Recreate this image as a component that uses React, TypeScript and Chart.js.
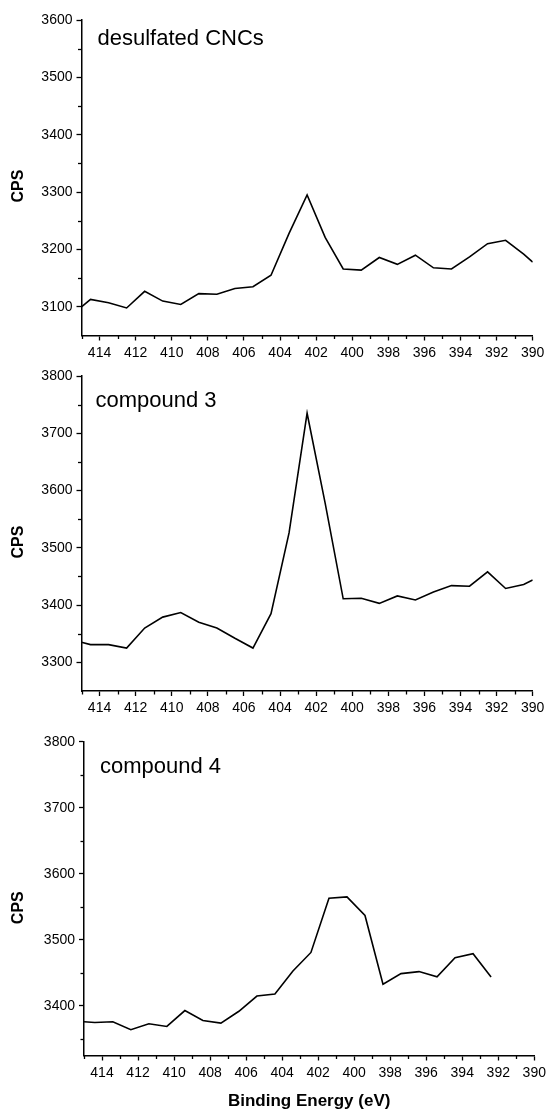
import React, { useEffect, useRef } from 'react';
import { Chart, registerables } from 'chart.js';

Chart.register(...registerables);

// ---- data ----
const energies1 = [415.0, 414.5, 413.5, 412.5, 411.5, 410.5, 409.5, 408.5, 407.5, 406.5, 405.5, 404.5, 403.5, 402.5, 401.5, 400.5, 399.5, 398.5, 397.5, 396.5, 395.5, 394.5, 393.5, 392.5, 391.5, 390.5, 390.0];
const cps1 = [3100, 3113, 3107, 3098, 3127, 3110, 3104, 3123, 3122, 3132, 3135, 3155, 3228, 3295, 3221, 3166, 3164, 3186, 3174, 3190, 3168, 3166, 3187, 3210, 3216, 3192, 3178];

const energies2 = [415.0, 414.5, 413.5, 412.5, 411.5, 410.5, 409.5, 408.5, 407.5, 406.5, 405.5, 404.5, 403.5, 402.5, 401.5, 400.5, 399.5, 398.5, 397.5, 396.5, 395.5, 394.5, 393.5, 392.5, 391.5, 390.5, 390.0];
const cps2 = [3335, 3331, 3331, 3325, 3360, 3379, 3387, 3370, 3360, 3342, 3325, 3385, 3526, 3735, 3578, 3411, 3412, 3403, 3416, 3409, 3423, 3434, 3433, 3458, 3429, 3436, 3444];

const energies3 = [415.0, 414.4, 413.4, 412.4, 411.4, 410.4, 409.4, 408.4, 407.4, 406.4, 405.4, 404.4, 403.4, 402.4, 401.4, 400.4, 399.4, 398.4, 397.4, 396.4, 395.4, 394.4, 393.4, 392.4];
const cps3 = [3376, 3375, 3376, 3364, 3373, 3369, 3393, 3378, 3374, 3392, 3415, 3418, 3453, 3481, 3563, 3565, 3537, 3433, 3449, 3452, 3444, 3473, 3479, 3444];

const xMajorTicks = [390, 392, 394, 396, 398, 400, 402, 404, 406, 408, 410, 412, 414];
const xMinorTicks = [391, 393, 395, 397, 399, 401, 403, 405, 407, 409, 411, 413, 415];

const yMajor1 = [3100, 3200, 3300, 3400, 3500, 3600];
const yMinor1 = [3150, 3250, 3350, 3450, 3550];
const yMajor2 = [3300, 3400, 3500, 3600, 3700, 3800];
const yMinor2 = [3350, 3450, 3550, 3650, 3750];
const yMajor3 = [3400, 3500, 3600, 3700, 3800];
const yMinor3 = [3350, 3450, 3550, 3650, 3750];

const panelLabels = ['desulfated CNCs', 'compound 3', 'compound 4'];
const yTitle = 'CPS';
const xTitle = 'Binding Energy (eV)';

const FONT = '"Liberation Sans", Arial, Helvetica, sans-serif';

type Panel = {
  label: string;
  xs: number[];
  ys: number[];
  yMin: number;
  yMax: number;
  yMajor: number[];
  yMinor: number[];
  top: number;
  height: number;
  padTop: number;
  areaBottom: number;
  left: number;
  right: number;
  labelDx: number;
  labelDy: number;
  showXTitle: boolean;
};

const panels: Panel[] = [
  { label: panelLabels[0], xs: energies1, ys: cps1, yMin: 3050, yMax: 3600, yMajor: yMajor1, yMinor: yMinor1, top: 0, height: 362, padTop: 20, areaBottom: 335.5, left: 81.5, right: 532.7, labelDx: 16, labelDy: 25, showXTitle: false },
  { label: panelLabels[1], xs: energies2, ys: cps2, yMin: 3250, yMax: 3800, yMajor: yMajor2, yMinor: yMinor2, top: 362, height: 358, padTop: 14, areaBottom: 329, left: 81.5, right: 532.7, labelDx: 14, labelDy: 30.5, showXTitle: false },
  { label: panelLabels[2], xs: energies3, ys: cps3, yMin: 3325, yMax: 3800, yMajor: yMajor3, yMinor: yMinor3, top: 720, height: 391, padTop: 21.7, areaBottom: 335.5, left: 84, right: 534.3, labelDx: 16, labelDy: 31, showXTitle: true },
];

function PanelChart({ p }: { p: Panel }) {
  const ref = useRef<HTMLCanvasElement | null>(null);
  useEffect(() => {
    if (!ref.current) return;
    const overlay = {
      id: 'overlay' + p.top,
      afterDraw(chart: any) {
        const { ctx, chartArea, scales } = chart;
        ctx.save();
        ctx.strokeStyle = '#000';
        ctx.lineWidth = 1.3;
        xMinorTicks.forEach((v) => {
          const px = Math.round(scales.x.getPixelForValue(v)) + 0.5;
          ctx.beginPath();
          ctx.moveTo(px, chartArea.bottom);
          ctx.lineTo(px, chartArea.bottom + 3.5);
          ctx.stroke();
        });
        p.yMinor.forEach((v) => {
          const py = Math.round(scales.y.getPixelForValue(v)) + 0.5;
          ctx.beginPath();
          ctx.moveTo(chartArea.left - 3.5, py);
          ctx.lineTo(chartArea.left, py);
          ctx.stroke();
        });
        ctx.fillStyle = '#000';
        ctx.textAlign = 'left';
        ctx.textBaseline = 'alphabetic';
        ctx.font = '22px ' + FONT;
        ctx.fillText(p.label, chartArea.left + p.labelDx, chartArea.top + p.labelDy);
        if (p.showXTitle) {
          ctx.font = 'bold 17px ' + FONT;
          ctx.textAlign = 'center';
          ctx.textBaseline = 'middle';
          ctx.fillText(xTitle, (chartArea.left + chartArea.right) / 2, chartArea.bottom + 46);
        }
        ctx.translate(19, chartArea.top + 166);
        ctx.rotate(-Math.PI / 2);
        ctx.font = 'bold 16px ' + FONT;
        ctx.textAlign = 'center';
        ctx.textBaseline = 'middle';
        ctx.fillText(yTitle, 0, 0);
        ctx.restore();
      },
    };

    const chart = new Chart(ref.current, {
      type: 'line',
      data: {
        datasets: [
          {
            data: p.xs.map((x, i) => ({ x, y: p.ys[i] })),
            borderColor: '#000',
            borderWidth: 1.6,
            pointRadius: 0,
            tension: 0,
            fill: false,
          },
        ],
      },
      options: {
        responsive: false,
        maintainAspectRatio: false,
        animation: false,
        layout: { padding: { top: p.padTop, right: 547 - p.right, left: 0, bottom: 0 } },
        plugins: { legend: { display: false }, tooltip: { enabled: false }, title: { display: false } },
        scales: {
          x: {
            type: 'linear',
            reverse: true,
            min: 390,
            max: 415,
            afterBuildTicks: (s: any) => {
              s.ticks = xMajorTicks.map((v) => ({ value: v }));
            },
            afterFit: (s: any) => {
              s.height = p.height - p.areaBottom;
            },
            ticks: {
              autoSkip: false,
              maxRotation: 0,
              minRotation: 0,
              padding: 4,
              color: '#000',
              font: { family: FONT, size: 14 },
              callback: (v: any) => String(v),
            },
            grid: { display: true, drawOnChartArea: false, drawTicks: true, tickLength: 5, tickColor: '#000', tickWidth: 1.3 },
            border: { display: true, color: '#000', width: 1.5 },
          },
          y: {
            type: 'linear',
            min: p.yMin,
            max: p.yMax,
            afterBuildTicks: (s: any) => {
              s.ticks = p.yMajor.map((v) => ({ value: v }));
            },
            afterFit: (s: any) => {
              s.width = p.left;
            },
            ticks: {
              padding: 4,
              color: '#000',
              font: { family: FONT, size: 14 },
              callback: (v: any) => String(v),
            },
            grid: { display: true, drawOnChartArea: false, drawTicks: true, tickLength: 5, tickColor: '#000', tickWidth: 1.3 },
            border: { display: true, color: '#000', width: 1.5 },
          },
        },
      },
      plugins: [overlay],
    } as any);
    return () => chart.destroy();
  }, [p]);

  return (
    <canvas
      ref={ref}
      width={547}
      height={p.height}
      style={{ position: 'absolute', left: 0, top: p.top, width: 547, height: p.height, display: 'block' }}
    />
  );
}

export default function App() {
  return (
    <div style={{ position: 'absolute', left: 0, top: 0, width: 547, height: 1111, background: '#fff', overflow: 'hidden' }}>
      {panels.map((p, i) => (
        <PanelChart key={i} p={p} />
      ))}
    </div>
  );
}
